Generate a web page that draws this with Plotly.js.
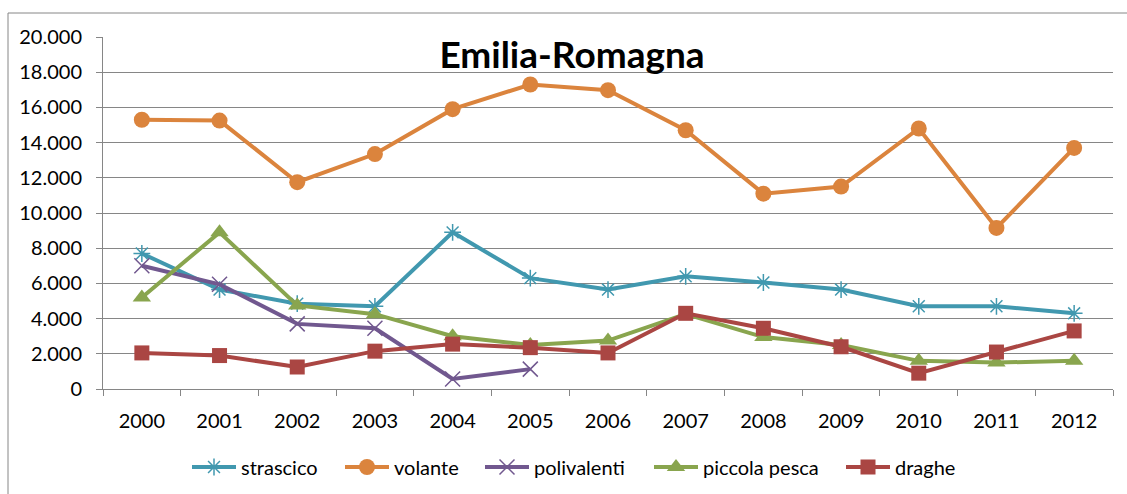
<!DOCTYPE html>
<html>
<head>
<meta charset="utf-8">
<script src="https://cdn.plot.ly/plotly-3.0.1.min.js"></script>
<style>
html,body{margin:0;padding:0;background:#fff;}
#chart{width:1127px;height:494px;}
</style>
</head>
<body>
<div id="chart"></div>
<script>
const years = ["2000","2001","2002","2003","2004","2005","2006","2007","2008","2009","2010","2011","2012"];
const strascico = [7700,5650,4850,4700,8900,6300,5650,6400,6050,5650,4700,4700,4300];
const volante = [15300,15250,11750,13350,15900,17300,16980,14700,11100,11500,14800,9150,13700];
const polivalenti = [7000,5950,3700,3450,570,1130,null,null,null,null,null,null,null];
const piccolaPesca = [5200,8900,4750,4250,3000,2500,2750,4250,2950,2500,1600,1500,1600];
const draghe = [2050,1900,1250,2150,2550,2350,2050,4300,3450,2400,900,2100,3300];
const yTicks = [0,2000,4000,6000,8000,10000,12000,14000,16000,18000,20000];

const FONT = "Lato, 'Open Sans', sans-serif";
function tr(name, y, color, symbol, size, open, leg) {
  return {
    x: years, y: y, name: name, type: "scatter", mode: "lines+markers",
    connectgaps: false, legend: leg,
    line: {color: color, width: 4},
    marker: {symbol: symbol, size: size, color: color,
             line: {color: color, width: open ? 1.5 : 0}}
  };
}
const data = [
  tr("strascico", strascico, "#4198AF", "asterisk-open", 14, true, "legend"),
  tr("volante", volante, "#DB843D", "circle", 16, false, "legend2"),
  tr("polivalenti", polivalenti, "#71588F", "x-thin-open", 15, true, "legend3"),
  tr("piccola pesca", piccolaPesca, "#89A54E", "triangle-up", 16, false, "legend4"),
  tr("draghe", draghe, "#AA4643", "square", 15, false, "legend5")
];

function leg(xStart) {
  return {
    orientation: "h",
    xref: "container", x: (xStart - 6) / 1127, xanchor: "left",
    yref: "container", y: 1 - 467/494, yanchor: "middle",
    font: {family: FONT, size: 20, color: "#000"},
    itemwidth: 44,
    bgcolor: "rgba(0,0,0,0)"
  };
}

const layout = {
  width: 1127, height: 494,
  margin: {l: 103, r: 14, t: 37, b: 105, pad: 0},
  paper_bgcolor: "#fff", plot_bgcolor: "#fff",
  separators: ",.",
  font: {family: FONT, size: 20, color: "#000"},
  title: {
    text: "<b>Emilia-Romagna</b>",
    font: {family: FONT, size: 37, color: "#000"},
    xref: "container", x: 572/1127, xanchor: "center",
    yref: "container", y: 1 - 55/494, yanchor: "middle"
  },
  xaxis: {
    type: "category",
    range: [-0.5, 12.5],
    showgrid: false, zeroline: false,
    showline: true, linecolor: "#868686", linewidth: 1,
    ticks: "outside", tickson: "boundaries", ticklen: 6, tickcolor: "#868686",
    ticklabelstandoff: 14,
    tickfont: {family: FONT, size: 20, color: "#000"},
    fixedrange: true
  },
  yaxis: {
    range: [0, 20000],
    tickvals: yTicks,
    tickformat: ",d",
    showgrid: true, gridcolor: "#868686", gridwidth: 1,
    zeroline: false,
    showline: true, linecolor: "#868686", linewidth: 1,
    ticks: "outside", ticklen: 6, tickcolor: "#868686",
    ticklabelstandoff: 10,
    tickfont: {family: FONT, size: 20, color: "#000"},
    fixedrange: true
  },
  showlegend: true,
  legend: leg(193),
  legend2: leg(346),
  legend3: leg(486),
  legend4: leg(655),
  legend5: leg(847),
  shapes: [
    {type: "line", xref: "paper", yref: "paper",
     x0: (8-103)/1010, x1: (8-103)/1010, y0: (389-500)/352, y1: (389-13)/352,
     line: {color: "#868686", width: 1}},
    {type: "line", xref: "paper", yref: "paper",
     x0: (8-103)/1010, x1: (1130-103)/1010, y0: (389-13)/352, y1: (389-13)/352,
     line: {color: "#868686", width: 1}}
  ]
};

Plotly.newPlot("chart", data, layout, {displayModeBar: false, staticPlot: true});
</script>
</body>
</html>
